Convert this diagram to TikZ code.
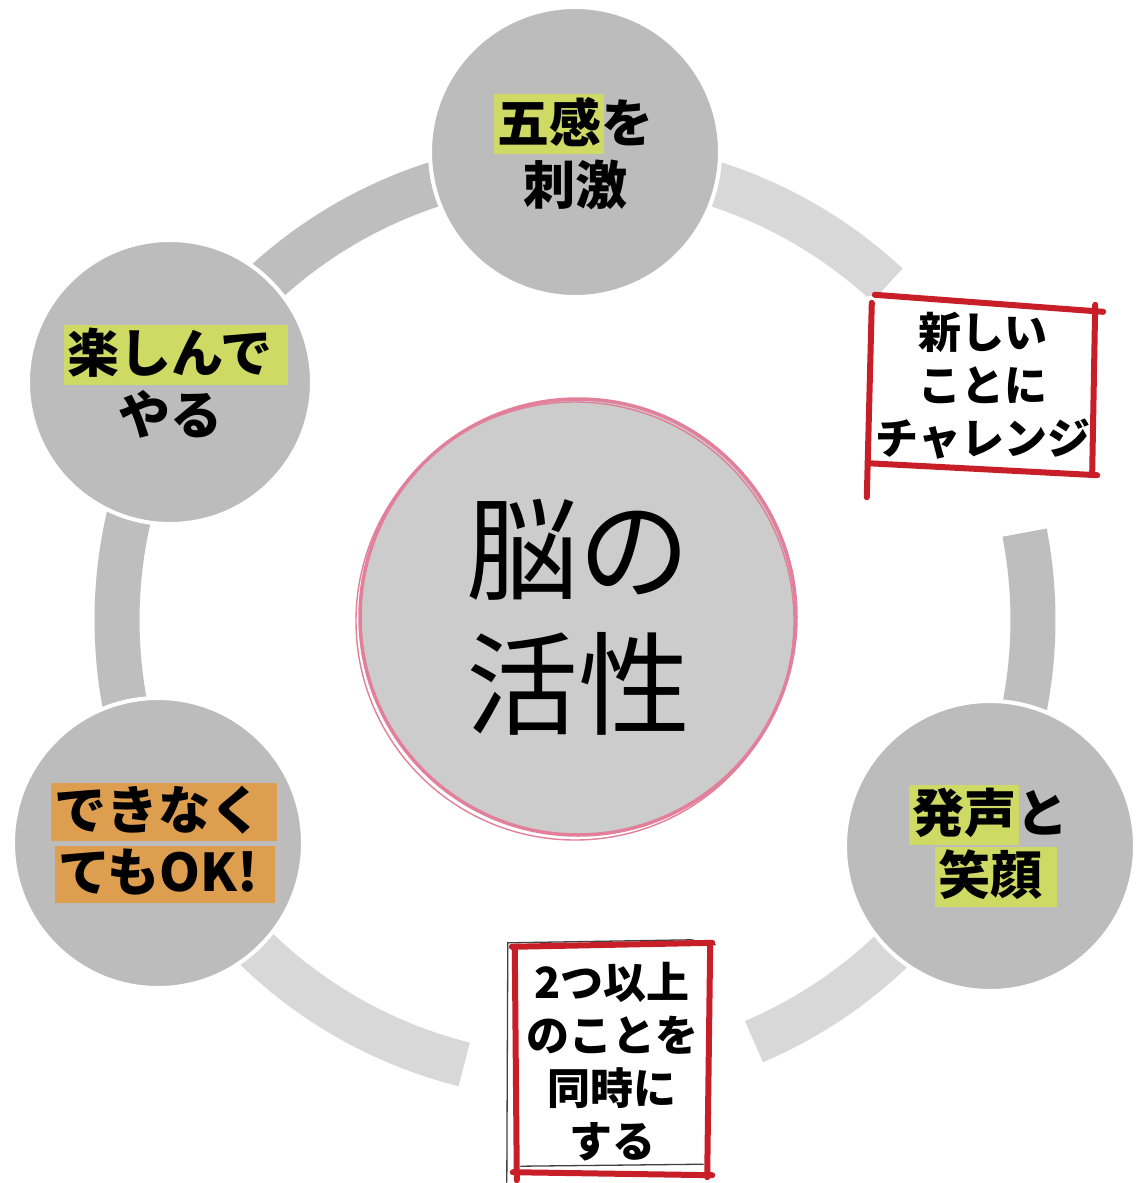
\documentclass[tikz,border=0pt]{standalone}
\usepackage{fontspec}
\newfontfamily\jp{Noto Sans CJK JP}
\usetikzlibrary{calc}
\definecolor{hlg}{RGB}{206,218,100}
\definecolor{hlo}{RGB}{222,158,80}
\definecolor{boxred}{RGB}{200,30,40}
\definecolor{ringdark}{RGB}{190,190,190}
\definecolor{ringlight}{RGB}{216,216,216}
\definecolor{circfill}{RGB}{188,188,188}
\definecolor{ctrfill}{RGB}{204,204,204}
\definecolor{pinkline}{RGB}{226,128,156}
\newcommand\tightlines{\lineskiplimit=-100pt}
\newcommand\hlbox[3]{{\fboxsep=3pt\hspace*{-3pt}\colorbox{#1}{\rule[-0.17em]{0pt}{0.97em}#3\hspace*{#2}}\hspace*{-3pt}\hspace*{-#2}}}
\begin{document}
\begin{tikzpicture}[x=1pt,y=-1pt,
  ringdk/.style={draw=ringdark,line width=45pt},
  ringlt/.style={draw=ringlight,line width=45pt},
  bubble/.style={circle,fill=circfill,draw=white,line width=4pt,inner sep=0pt,align=center,
    font={\jp\bfseries\fontsize{52}{62}\selectfont\tightlines}},
  core/.style={circle,fill=ctrfill,draw=pinkline,line width=3.5pt,inner sep=0pt,minimum size=436pt,align=center,
    font={\jp\fontsize{112}{135}\selectfont\tightlines}},
  notebox/.style={rectangle,fill=white,inner sep=0pt,align=center,
    font={\jp\bfseries\fontsize{43}{53}\selectfont\tightlines}},
  redpen/.style={draw=boxred,line width=6pt,line cap=round},
  pencil/.style={draw=black!75,line width=1.3pt,line cap=round}]
\useasboundingbox (0,0) rectangle (1136,1183);
\fill[white] (0,0) rectangle (1136,1183);
\coordinate (c) at (575,620);
% ring segments
\draw[ringdk,shift={(c)}] plot[domain=200:280,samples=60] (\x:458);
\draw[ringlt,shift={(c)}] plot[domain=270:313,samples=40] (\x:458);
\draw[ringdk,shift={(c)}] plot[domain=349:400,samples=50] (\x:458);
\draw[ringlt,shift={(c)}] plot[domain=20:67,samples=40] (\x:458);
\draw[ringlt,shift={(c)}] plot[domain=104:160,samples=50] (\x:458);
\draw[ringdk,shift={(c)}] plot[domain=150:215,samples=60] (\x:458);
% bubbles
\node[bubble,minimum size=290pt] (n1) at (575,152) {\hlbox{hlg}{0pt}{五感}を\\刺激};
\node[bubble,minimum size=284pt] (n2) at (170,382) {\hlbox{hlg}{12pt}{楽しんで}\\やる};
\node[bubble,minimum size=290pt] (n4) at (158,843) {\hlbox{hlo}{12pt}{できなく}\\\hlbox{hlo}{14pt}{てもOK!}};
\node[bubble,minimum size=290pt] (n3) at (990,846) {\hlbox{hlg}{0pt}{発声}と\\\hlbox{hlg}{12pt}{笑顔}};
% centre
\node[core] (core) at (578,617) {脳の\\活性};
\draw[draw=pinkline,line width=1.4pt] ($(core)+(-3,4)$) circle[radius=219pt];
% note boxes
\node[notebox,minimum width=232pt,minimum height=180pt] (b1) at (983,386) {新しい\\ことに\\チャレンジ};
\draw[redpen] ($(b1.north west)+(8,-1)$) -- ($(b1.north east)+(4,16)$);
\draw[redpen] ($(b1.north east)+(-4,9)$) -- ($(b1.south east)+(-7,-4)$);
\draw[redpen] ($(b1.south west)+(1,-13)$) -- ($(b1.south east)+(-2,-1)$);
\draw[redpen] ($(b1.north west)+(5,7)$) -- ($(b1.south west)+(0,21)$);
\node[notebox,minimum width=198pt,minimum height=232pt] (b2) at (612,1062) {2つ以上\\のことを\\同時に\\する};
\draw[pencil] ($(b2.south west)+(-6,4)$) -- ($(b2.north west)+(-5,-3)$) -- ($(b2.north east)+(-20,-6)$) -- ($(b2.north east)+(4,-1)$);
\draw[pencil] ($(b2.south west)+(8,-12)$) -- ($(b2.south east)+(-8,-14)$);
\draw[redpen] ($(b2.north west)+(-1,1)$) -- ($(b2.north east)+(1,-3)$);
\draw[redpen] ($(b2.north east)+(-1,-3)$) -- ($(b2.south east)+(-4,-1)$);
\draw[redpen] ($(b2.north west)+(2,4)$) -- ($(b2.south west)+(4,2)$);
\draw[redpen] ($(b2.south west)+(0,-6)$) -- ($(b2.south east)+(1,-3)$);
\end{tikzpicture}
\end{document}
